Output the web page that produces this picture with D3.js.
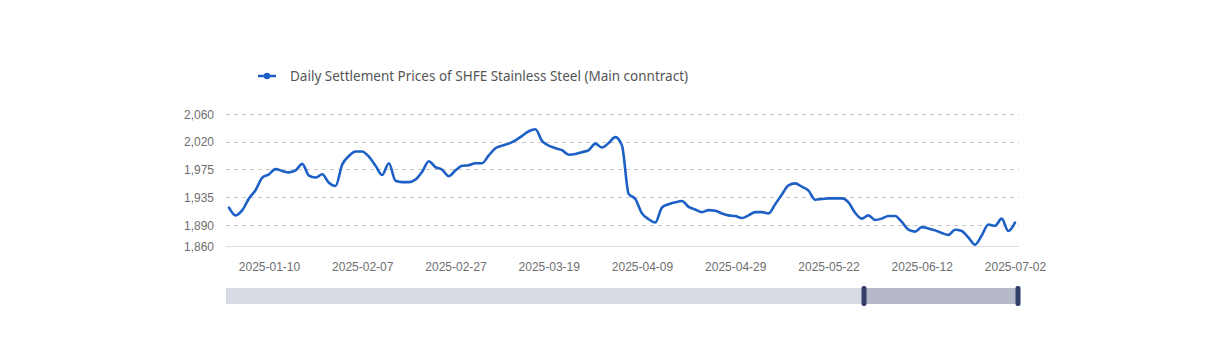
<!DOCTYPE html>
<html>
<head>
<meta charset="utf-8">
<script src="https://cdn.jsdelivr.net/npm/d3@7/dist/d3.min.js"></script>
<style>
  html, body { margin: 0; padding: 0; background: #fff; }
  svg { display: block; font-family: "Noto Sans", "Open Sans", sans-serif; }
</style>
</head>
<body>
<svg id="chart" width="1218" height="350"></svg>
<script>
const seriesName = "Daily Settlement Prices of SHFE Stainless Steel (Main conntract)";

const dates = [
  "2025-01-02","2025-01-03","2025-01-06","2025-01-07","2025-01-08","2025-01-09","2025-01-10",
  "2025-01-13","2025-01-14","2025-01-15","2025-01-16","2025-01-17","2025-01-20","2025-01-21",
  "2025-01-22","2025-01-23","2025-01-24","2025-01-27",
  "2025-02-05","2025-02-06","2025-02-07","2025-02-10","2025-02-11","2025-02-12","2025-02-13",
  "2025-02-14","2025-02-17","2025-02-18","2025-02-19","2025-02-20","2025-02-21","2025-02-24",
  "2025-02-25","2025-02-26","2025-02-27","2025-02-28",
  "2025-03-03","2025-03-04","2025-03-05","2025-03-06","2025-03-07","2025-03-10","2025-03-11",
  "2025-03-12","2025-03-13","2025-03-14","2025-03-17","2025-03-18","2025-03-19","2025-03-20",
  "2025-03-21","2025-03-24","2025-03-25","2025-03-26","2025-03-27","2025-03-28","2025-03-31",
  "2025-04-01","2025-04-02","2025-04-03","2025-04-07","2025-04-08","2025-04-09","2025-04-10",
  "2025-04-11","2025-04-14","2025-04-15","2025-04-16","2025-04-17","2025-04-18","2025-04-21",
  "2025-04-22","2025-04-23","2025-04-24","2025-04-25","2025-04-28","2025-04-29","2025-04-30",
  "2025-05-06","2025-05-07","2025-05-08","2025-05-09","2025-05-12","2025-05-13","2025-05-14",
  "2025-05-15","2025-05-16","2025-05-19","2025-05-20","2025-05-21","2025-05-22","2025-05-23",
  "2025-05-26","2025-05-27","2025-05-28","2025-05-29","2025-05-30",
  "2025-06-03","2025-06-04","2025-06-05","2025-06-06","2025-06-09","2025-06-10","2025-06-11",
  "2025-06-12","2025-06-13","2025-06-16","2025-06-17","2025-06-18","2025-06-19","2025-06-20",
  "2025-06-23","2025-06-24","2025-06-25","2025-06-26","2025-06-27","2025-06-30",
  "2025-07-01","2025-07-02"
];

const prices = [
  1919,1907,1915,1933,1946,1965,1970,1978,1975,1973,
  1976,1986,1968,1965,1970,1957,1952,1985,1998,2005,
  2005,1997,1983,1969,1987,1960,1958,1958,1962,1974,
  1990,1981,1977,1967,1976,1983,1984,1987,1987,1999,
  2010,2014,2017,2022,2029,2036,2039,2021,2014,2010,
  2007,2000,2001,2004,2007,2017,2011,2018,2027,2014,
  1940,1932,1910,1901,1896,1919,1924,1927,1929,1920,
  1916,1912,1915,1914,1910,1907,1906,1903,1907,1912,
  1912,1910,1924,1939,1953,1956,1951,1945,1931,1932,
  1933,1933,1933,1927,1911,1902,1907,1900,1902,1906,
  1906,1897,1885,1882,1889,1887,1884,1880,1877,1885,
  1883,1873,1862,1876,1893,1891,1902,1883,1896
];

const xTickLabels = ["2025-01-10","2025-02-07","2025-02-27","2025-03-19","2025-04-09",
                     "2025-04-29","2025-05-22","2025-06-12","2025-07-02"];
const yTickValues = [1860, 1892.5, 1935, 1977.5, 2020, 2062.5];
const yTickLabels = ["1,860", "1,890", "1,935", "1,975", "2,020", "2,060"];
const yDomain = [1860, 2062.5];

const svg = d3.select("#chart");
const plot = { left: 226, right: 1019, top: 114, bottom: 246 };
const lineColor = "#1c5fc5";

const x = d3.scalePoint().domain(dates).range([229, 1015]);
const y = d3.scaleLinear().domain(yDomain).range([plot.bottom, plot.top]);

// y axis labels
const yAxis = d3.axisLeft(y).tickValues(yTickValues)
  .tickFormat((d, i) => yTickLabels[i]).tickSize(0).tickPadding(12);
const gy = svg.append("g").attr("transform", `translate(${plot.left},0)`).call(yAxis);
gy.select(".domain").remove();
gy.selectAll("text").attr("fill", "#6e6e6e").style("font-size", "12px")
  .attr("dy", "0.35em");

// dashed grid lines
svg.append("g").selectAll("line")
  .data(yTickValues.slice(1)).join("line")
  .attr("x1", plot.left).attr("x2", plot.right)
  .attr("y1", d => Math.round(y(d)) + 0.5).attr("y2", d => Math.round(y(d)) + 0.5)
  .attr("stroke", "#c8c8c8").attr("stroke-dasharray", "4,4");

// x axis
const xAxis = d3.axisBottom(x).tickValues(xTickLabels).tickSize(0).tickPadding(16);
const gx = svg.append("g").attr("transform", `translate(0,${plot.bottom})`).call(xAxis);
gx.select(".domain").remove();
gx.selectAll("text").attr("fill", "#6e6e6e").style("font-size", "12px");
svg.append("line")
  .attr("x1", plot.left).attr("x2", plot.right)
  .attr("y1", Math.round(y(yDomain[0])) + 0.5).attr("y2", Math.round(y(yDomain[0])) + 0.5)
  .attr("stroke", "#dcdcdc");

// line
const line = d3.line()
  .x((d, i) => x(dates[i]))
  .y(d => y(d))
  .curve(d3.curveMonotoneX);
svg.append("path").datum(prices)
  .attr("d", line).attr("fill", "none")
  .attr("stroke", lineColor).attr("stroke-width", 2.6)
  .attr("stroke-linejoin", "round").attr("stroke-linecap", "round");

// legend
const lg = svg.append("g").attr("transform", "translate(258,76)");
lg.append("line").attr("x1", 0).attr("x2", 18).attr("y1", 0).attr("y2", 0)
  .attr("stroke", lineColor).attr("stroke-width", 2.5);
lg.append("circle").attr("cx", 9).attr("cy", 0).attr("r", 3.2).attr("fill", lineColor);
const lt = lg.append("text").attr("x", 32).attr("y", 0).attr("dy", "0.35em")
  .attr("fill", "#555").style("font-size", "14px").text(seriesName);
const w = lt.node().getComputedTextLength();
lt.style("font-size", (14 * 398 / w).toFixed(2) + "px");

// slider (data zoom)
const sl = svg.append("g");
sl.append("rect").attr("x", 226).attr("y", 288).attr("width", 792).attr("height", 16)
  .attr("fill", "#d7dbe4");
sl.append("rect").attr("x", 864).attr("y", 288).attr("width", 154).attr("height", 16)
  .attr("fill", "#b6b9c9");
[864, 1018].forEach(hx => {
  sl.append("rect").attr("x", hx - 2.5).attr("y", 286).attr("width", 5).attr("height", 20)
    .attr("rx", 2).attr("fill", "#33406a");
});
</script>
</body>
</html>
